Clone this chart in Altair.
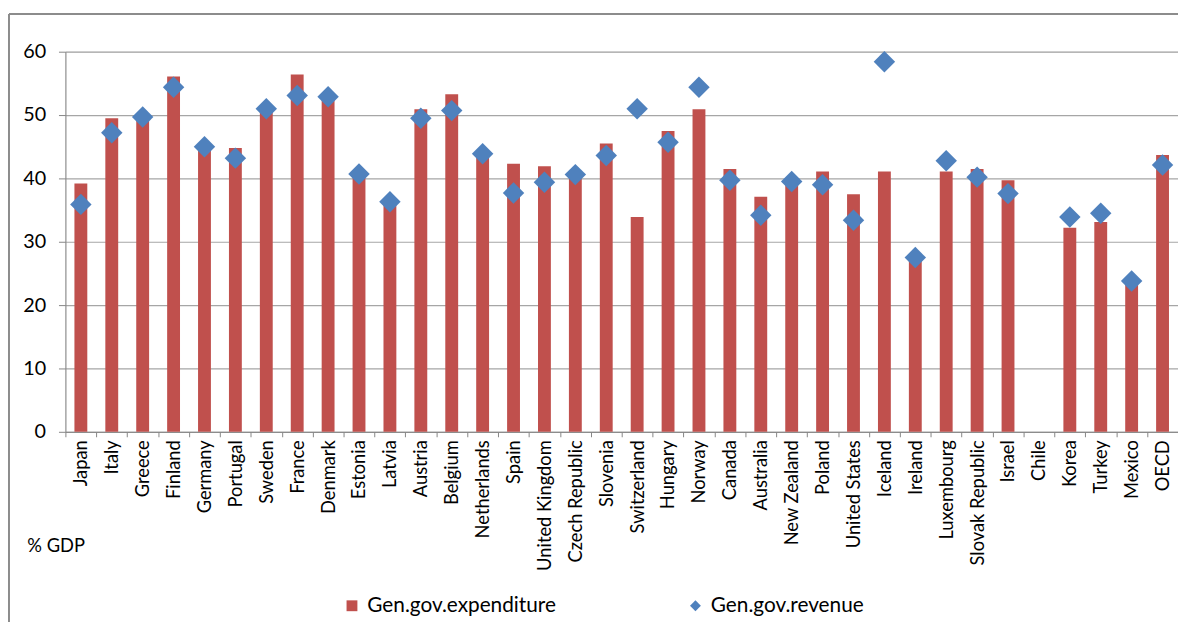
import altair as alt
import pandas as pd

categories = ["Japan", "Italy", "Greece", "Finland", "Germany", "Portugal", "Sweden",
              "France", "Denmark", "Estonia", "Latvia", "Austria", "Belgium",
              "Netherlands", "Spain", "United Kingdom", "Czech Republic", "Slovenia",
              "Switzerland", "Hungary", "Norway", "Canada", "Australia", "New Zealand",
              "Poland", "United States", "Iceland", "Ireland", "Luxembourg",
              "Slovak Republic", "Israel", "Chile", "Korea", "Turkey", "Mexico", "OECD"]

expenditure = [39.2, 49.5, 49.6, 56.1, 44.6, 44.8, 51.0, 56.4, 53.1, 40.2, 36.9, 50.9,
               53.3, 43.6, 42.3, 41.9, 40.3, 45.5, 33.9, 47.5, 50.9, 41.5, 37.1, 39.8,
               41.1, 37.5, 41.1, 27.2, 41.1, 41.5, 39.7, None, 32.2, 33.1, 23.3, 43.7]

revenue = [35.9, 47.2, 49.7, 54.4, 45.0, 43.2, 51.0, 53.1, 52.9, 40.7, 36.3, 49.5,
           50.7, 43.9, 37.7, 39.4, 40.6, 43.6, 51.0, 45.7, 54.4, 39.7, 34.2, 39.5,
           39.0, 33.4, 58.4, 27.5, 42.8, 40.2, 37.6, None, 33.9, 34.5, 23.8, 42.1]

series_names = ["Gen.gov.expenditure", "Gen.gov.revenue"]
series_colors = ["#C0504D", "#4F81BD"]
series_shapes = ["square", "diamond"]
y_ticks = [0, 10, 20, 30, 40, 50, 60]

df_exp = pd.DataFrame({"country": categories, "value": expenditure, "series": series_names[0]})
df_rev = pd.DataFrame({"country": categories, "value": revenue, "series": series_names[1]})

FONT = "Lato"
GRID = "#A6A6A6"

x_enc = alt.X(
    "country:N",
    sort=categories,
    scale=alt.Scale(paddingInner=0, paddingOuter=0),
    axis=alt.Axis(
        title=None, labelAngle=-90, tickBand="extent", tickSize=5,
        labelPadding=3, labelFont=FONT, labelFontSize=18.5, labelColor="#000000",
        domainColor="#868686", tickColor="#868686", labelLimit=300,
    ),
)
y_enc = alt.Y(
    "value:Q",
    scale=alt.Scale(domain=[0, 60], nice=False),
    axis=alt.Axis(
        values=y_ticks, title="% GDP", titleAngle=0, titleX=-39, titleY=499,
        titleAlign="left", titleBaseline="middle", titleFont=FONT, titleFontSize=18.5,
        titleFontWeight="normal", titleColor="#000000",
        grid=True, gridColor=GRID, gridWidth=1.2, tickSize=7, labelPadding=13,
        labelFont=FONT, labelFontSize=20, labelColor="#000000",
        domainColor="#868686", tickColor="#868686",
    ),
)
legend_cfg = dict(
    title=None, orient="none", legendX=279, legendY=549, direction="horizontal",
    labelFont=FONT, labelFontSize=21, labelColor="#000000", symbolSize=120,
    columnPadding=130, symbolStrokeWidth=0, labelOffset=5, labelLimit=400,
)
color_enc = alt.Color(
    "series:N",
    scale=alt.Scale(domain=series_names, range=series_colors),
    legend=alt.Legend(**legend_cfg),
)
shape_enc = alt.Shape(
    "series:N",
    scale=alt.Scale(domain=series_names, range=series_shapes),
    legend=alt.Legend(**legend_cfg),
)

bars = alt.Chart(df_exp).mark_bar(size=13).encode(x=x_enc, y=y_enc, color=color_enc)
points = alt.Chart(df_rev).mark_point(filled=True, size=470, opacity=1).encode(
    x=x_enc, y=y_enc, color=color_enc, shape=shape_enc
)

frame_df = pd.DataFrame({"k": [0]})
frame_top = alt.Chart(frame_df).mark_rule(color="#8C8C8C", strokeWidth=2).encode(
    x=alt.value(-57), x2=alt.value(1140), y=alt.value(-38), y2=alt.value(-38)
)
frame_left = alt.Chart(frame_df).mark_rule(color="#8C8C8C", strokeWidth=2).encode(
    x=alt.value(-57), x2=alt.value(-57), y=alt.value(-38), y2=alt.value(580)
)

chart = alt.layer(bars, points, frame_top, frame_left).properties(
    width=1124, height=384,
    autosize=alt.AutoSizeParams(type="none"),
    padding={"left": 58, "top": 41, "right": 0, "bottom": 190},
).configure_view(stroke=None).configure(background="white")

chart.save("out.html", embed_options={"renderer": "svg", "actions": False})
